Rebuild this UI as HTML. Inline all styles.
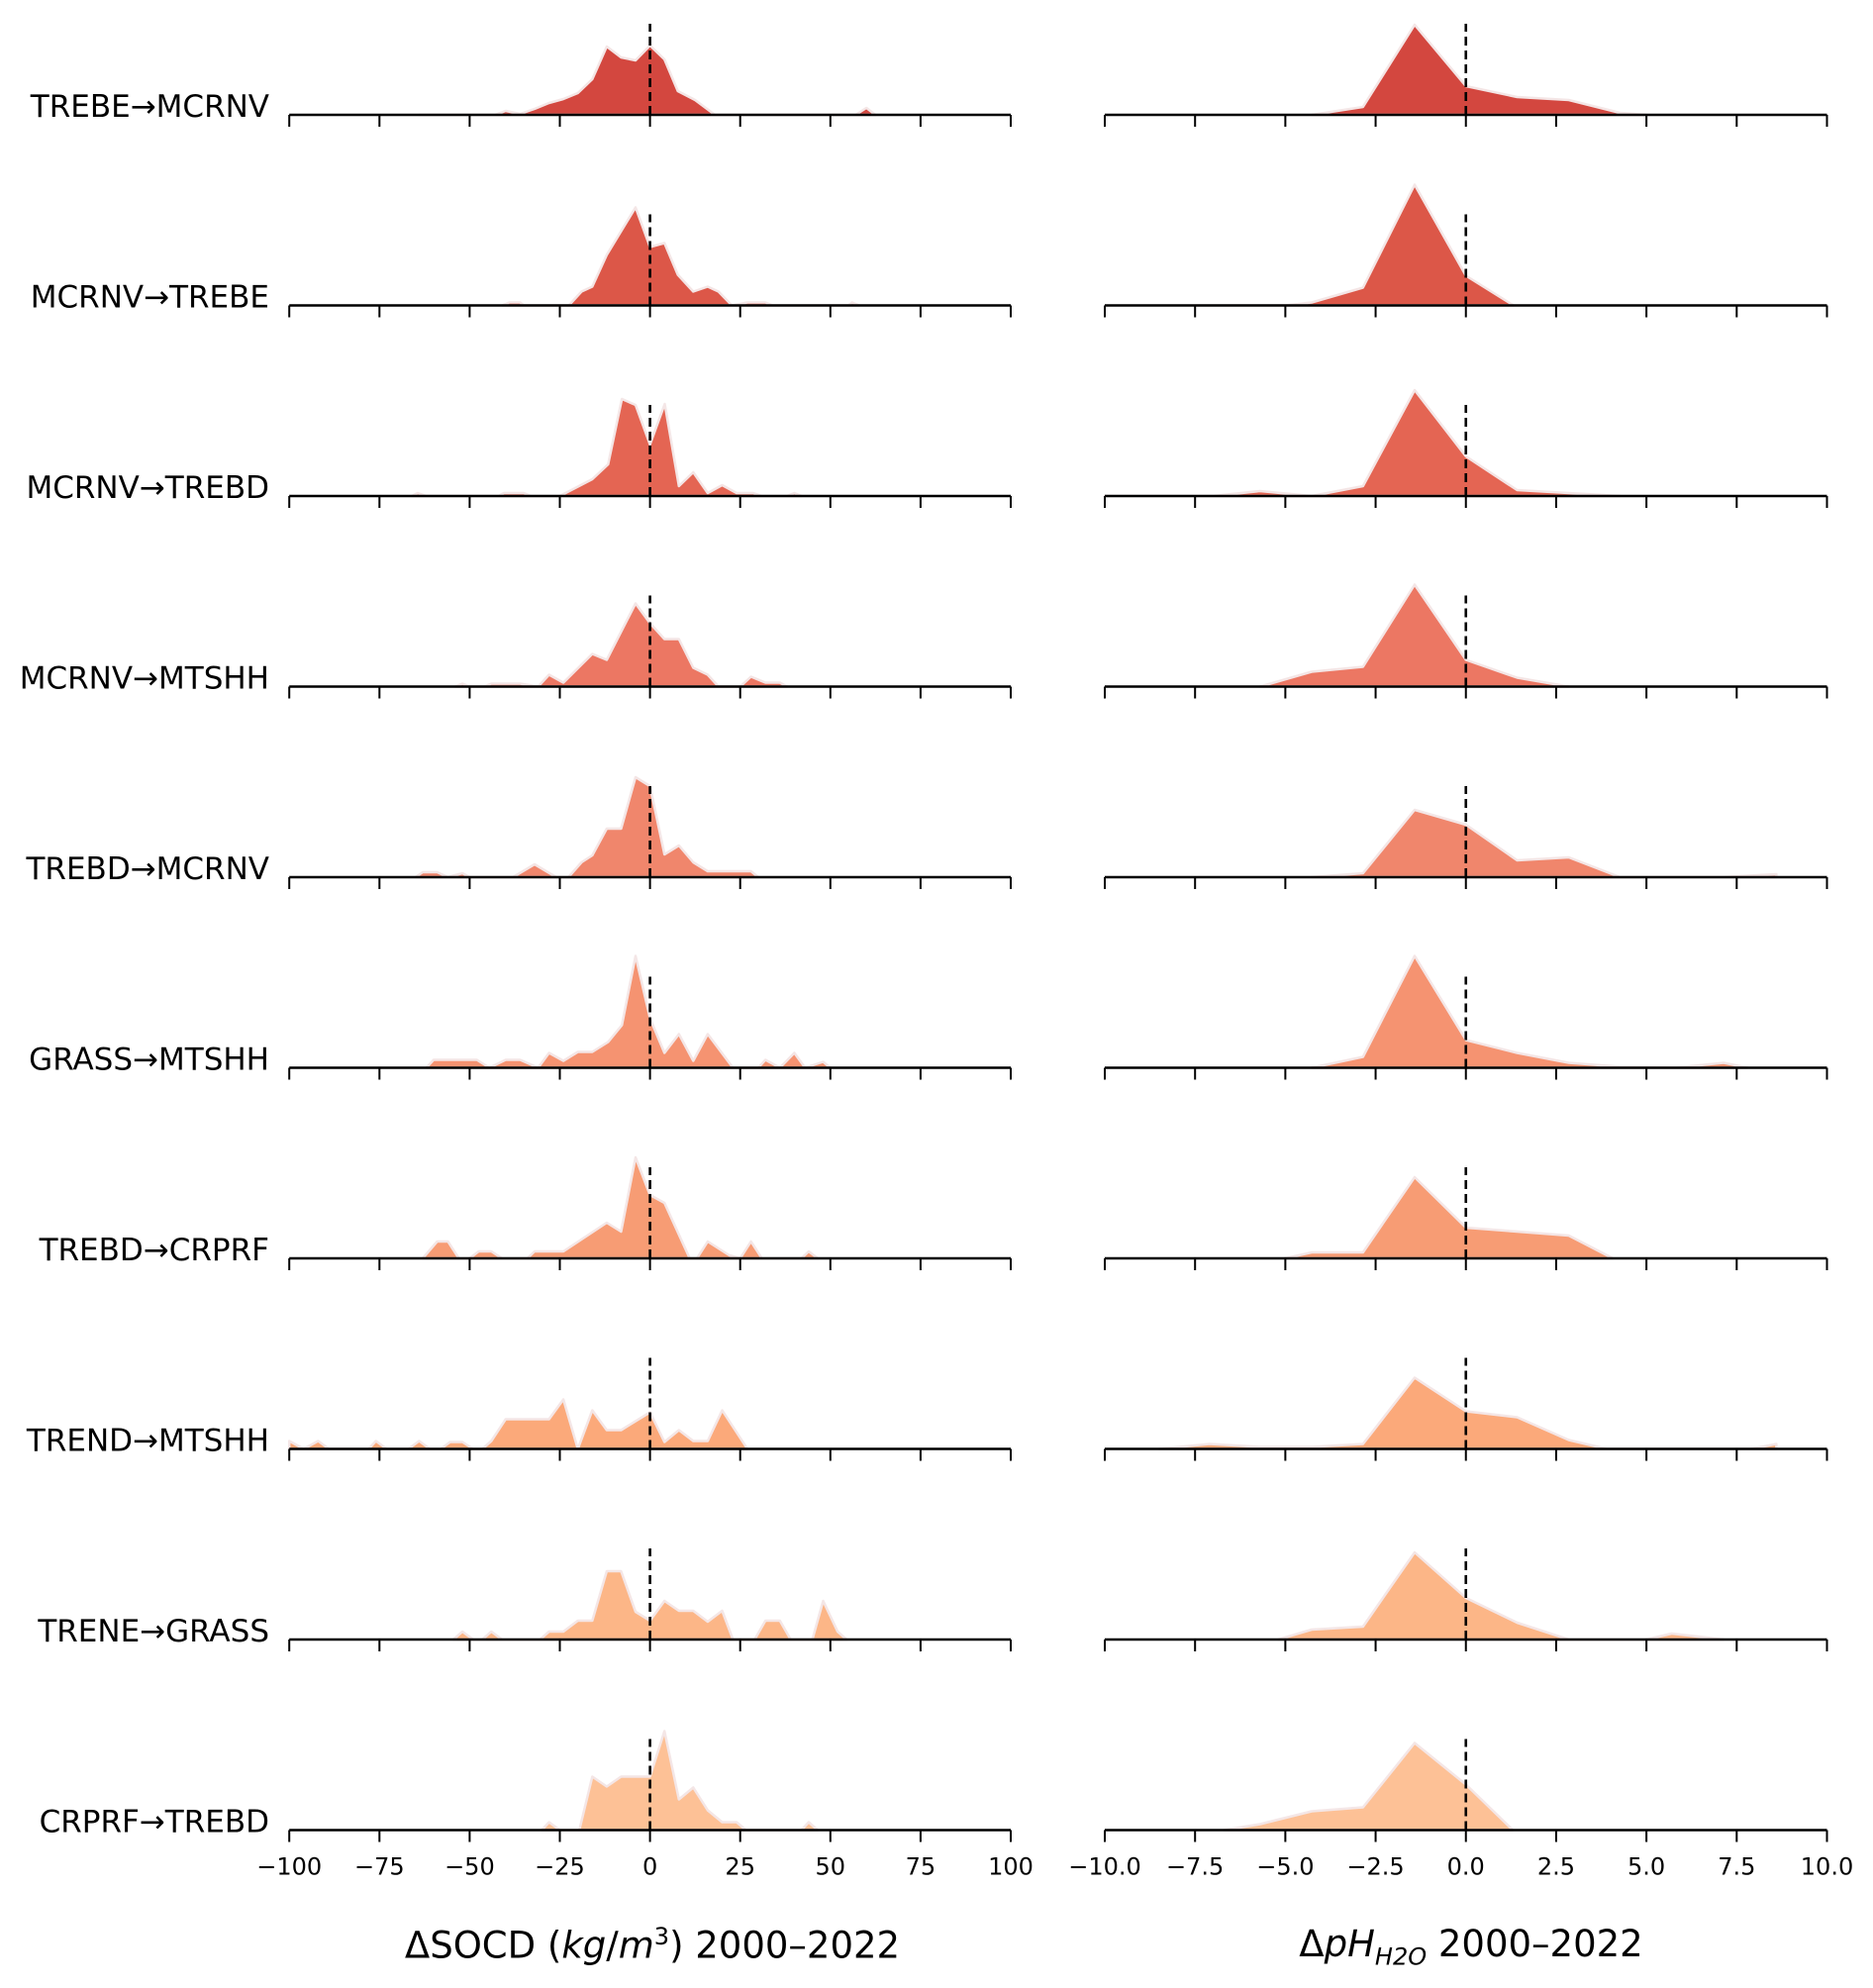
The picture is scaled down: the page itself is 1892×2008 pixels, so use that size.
<!DOCTYPE html>
<html><head><meta charset="utf-8"><style>
html,body{margin:0;padding:0;background:#fff;}
svg{display:block;font-family:"DejaVu Sans","Liberation Sans",sans-serif;}
</style></head><body>
<svg id="chart" width="1892" height="2008" viewBox="0 0 1892 2008" xmlns="http://www.w3.org/2000/svg"></svg>
<script>
const categories = ["TREBE→MCRNV","MCRNV→TREBE","MCRNV→TREBD","MCRNV→MTSHH","TREBD→MCRNV","GRASS→MTSHH","TREBD→CRPRF","TREND→MTSHH","TRENE→GRASS","CRPRF→TREBD"];
const colors = ["#d3473f","#dc5748","#e46553","#ec7763","#f0866c","#f59371","#f79c74","#fba97a","#fcb687","#fdc196"];
const socdTicks = [-100,-75,-50,-25,0,25,50,75,100];
const phTicks = [-10,-7.5,-5,-2.5,0,2.5,5,7.5,10];
const socdTickLabels = ["−100","−75","−50","−25","0","25","50","75","100"];
const phTickLabels = ["−10.0","−7.5","−5.0","−2.5","0.0","2.5","5.0","7.5","10.0"];
// SOCD series: [value, density(px-scaled)]
const socd0 = [[-64,0],[-43,0],[-40,4],[-36,1],[-32,6],[-28,12],[-24,16],[-20,22],[-16,36],[-12,69],[-8,58],[-4,55],[0,70],[4,56],[7.7,24],[12.5,15],[18,0],[57,0],[60,7],[62.5,0]];
const socd1 = [[-41,0],[-39,3],[-36,3],[-35,0],[-22.5,0],[-19,14],[-16,19],[-12,51],[-4,99],[0,59],[4,63],[7.7,31],[12,14],[16,19],[19,14],[22.7,0],[27,3],[32,3],[34,0],[55,0],[56,3],[58,0]];
const socd2 = [[-66,0],[-64.4,3],[-62,0],[-42,0],[-40.5,3],[-35,3],[-33,0],[-25,0],[-16,17],[-11.6,32],[-7.8,98],[-4,92],[0,52],[4.1,93],[8,10],[12,24],[16,3],[20,11],[24,3],[28.6,3],[31,0],[38,0],[40,3],[42,0]];
const socd3 = [[-54,0],[-52,3],[-50,0],[-46,0],[-44,3],[-36,3],[-31,0],[-28,12],[-24,4],[-16,33],[-12,27],[-4,84],[0,64],[4,48],[8,48],[12,19],[16,12],[19,0],[25,0],[28,10],[32,4],[36,4],[38,0]];
const socd4 = [[-65,0],[-63,5],[-59,5],[-56,0],[-52,4],[-50,0],[-38,0],[-32,13],[-26,0],[-22.6,0],[-19,15],[-16,22],[-12,49],[-8,49],[-4,101],[0,92],[4,23],[8,32],[12,15],[16,6],[28,6],[30,0]];
const socd5 = [[-62,0],[-60,8],[-48,8],[-44.5,0],[-40,8],[-36,8],[-31,0],[-28,15],[-24,7],[-20,16],[-16,16],[-11.6,26],[-7.8,43],[-4,113],[0,50],[4,15],[8,34],[12,7],[16,34],[23,0],[30,0],[32,8],[36,0],[40,15],[43,0],[48,6],[50,0]];
const socd6 = [[-63,0],[-59,17],[-56,17],[-53,0],[-50,0],[-47.5,7],[-44,7],[-41,0],[-34,0],[-32,7],[-24,7],[-12,36],[-8,27],[-4,102],[0,64],[4,56],[11,0],[13,0],[16,17],[22,3],[25,0],[28,17],[31,0],[42,0],[44,7],[46.5,0]];
const socd7 = [[-100,8],[-96,0],[-92,8],[-89,0],[-78,0],[-76,8],[-73,0],[-67,0],[-64,8],[-61,0],[-58,0],[-55.4,7],[-52,7],[-49,0],[-46.5,0],[-44,8],[-40,30],[-28,30],[-24,50],[-20,0],[-16,39],[-12,19],[-8,19],[0,37],[4,7],[8,19],[12,8],[16,8],[20,39],[27,0]];
const socd8 = [[-54.5,0],[-52,8],[-49,0],[-46.5,0],[-44,8],[-41,0],[-30.5,0],[-28,8],[-24,8],[-20,19],[-16,19],[-12,69],[-8,69],[-4,28],[0,19],[4,39],[8,29],[12,29],[16,18],[20,29],[23,0],[29,0],[32,19],[36,19],[39,0],[45,0],[48,39],[52,8],[54.5,0]];
const socd9 = [[-30,0],[-28,8],[-25,0],[-19.6,0],[-16,54],[-12,44],[-8,54],[0,54],[4,100],[8,31],[12,43],[16,20],[20,8],[24,8],[26.6,0],[42,0],[44,8],[46.5,0]];
// pH series
const ph0 = [[-4.27,0],[-2.85,8],[-1.42,91],[0,29],[1.42,18],[2.85,15],[4.27,2],[5,0]];
const ph1 = [[-7.5,0],[-5,0],[-4.27,3],[-2.85,18],[-1.42,122],[0,30],[1.32,0]];
const ph2 = [[-10,0],[-7,0],[-5.7,5],[-4.27,0],[-2.85,10],[-1.42,107],[0,40],[1.42,6],[2.85,3],[4.27,0]];
const ph3 = [[-5.7,0],[-4.27,15],[-2.85,20],[-1.42,103],[0,27],[1.42,9],[2.85,0]];
const ph4 = [[-4.27,0],[-2.85,4],[-1.42,68],[0,53],[1.42,17],[2.85,20],[4.27,0],[7.1,0],[8.6,3],[8.6,0]];
const ph5 = [[-4.27,0],[-2.85,11],[-1.42,113],[0,28],[1.42,15],[2.85,5],[4.27,1],[5.8,0],[7.14,5],[7.8,0]];
const ph6 = [[-5,0],[-4.27,6],[-2.85,6],[-1.42,82],[0,31],[1.42,27],[2.85,23],[4.07,0]];
const ph7 = [[-8.5,0],[-7.1,5],[-5.7,2],[-4.27,2],[-2.85,5],[-1.42,72],[0,38],[1.42,32],[2.85,9],[3.9,0],[7.9,0],[8.6,5],[8.6,0]];
const ph8 = [[-5.2,0],[-4.27,10],[-2.85,13],[-1.42,88],[0,42],[1.42,17],[2.85,0],[5,0],[5.7,6],[7.14,0]];
const ph9 = [[-6.7,0],[-5.7,6],[-4.27,19],[-2.85,23],[-1.42,88],[0,46],[1.3,0]];

const socdSeries=[socd0,socd1,socd2,socd3,socd4,socd5,socd6,socd7,socd8,socd9];
const phSeries=[ph0,ph1,ph2,ph3,ph4,ph5,ph6,ph7,ph8,ph9];

const NS="http://www.w3.org/2000/svg";
const svg=document.getElementById('chart');
const L={x0:292.2,x1:1021,min:-100,max:100};
const R={x0:1116,x1:1845.5,min:-10,max:10};
function sx(ax,v){return ax.x0+(v-ax.min)/(ax.max-ax.min)*(ax.x1-ax.x0);}
function baseY(i){return 116+i*192.5;}
function sy(i,d){return baseY(i)-d;}
function mk(tag,attrs){const e=document.createElementNS(NS,tag);for(const k in attrs)e.setAttribute(k,attrs[k]);svg.appendChild(e);return e;}

function drawPanel(ax,series,i,ticks,labels,side){
  const b=baseY(i);
  const pts=series[i];
  let d=`M${sx(ax,pts[0][0])},${b}`;
  pts.forEach(p=>{d+=` L${sx(ax,p[0]).toFixed(1)},${sy(i,p[1]).toFixed(1)}`;});
  d+=` L${sx(ax,pts[pts.length-1][0])},${b} Z`;
  const area=mk('path',{d:d,fill:colors[i],stroke:'#f4e6e6','stroke-width':2.5,'stroke-linejoin':'round'});
  
  
  const ax0=mk('line',{x1:ax.x0,x2:ax.x1,y1:b,y2:b,stroke:'#000','stroke-width':2.5});
  
  
  ticks.forEach((t,k)=>{
    const tk=mk('line',{x1:sx(ax,t),x2:sx(ax,t),y1:b,y2:b+12,stroke:'#000','stroke-width':2});
    
    
    if(i===series.length-1){
      const tl=mk('text',{x:sx(ax,t),y:b+45,'text-anchor':'middle','font-size':24,fill:'#000'});
      tl.textContent=labels[k];
      
      
    }
  });
  const zl=mk('line',{x1:sx(ax,0),x2:sx(ax,0),y1:b,y2:b-92,stroke:'#000','stroke-width':2.6,'stroke-dasharray':'9,5'});
  
  
}
categories.forEach((c,i)=>{
  drawPanel(L,socdSeries,i,socdTicks,socdTickLabels,'socd');
  drawPanel(R,phSeries,i,phTicks,phTickLabels,'ph');
  const t=mk('text',{x:272,y:baseY(i)+2,'text-anchor':'end','font-size':31,fill:'#000'});
  t.textContent=c;
  
  
});
</script>
<div style="position:absolute;left:0;top:0;width:1892px;height:2008px;pointer-events:none;font-family:'DejaVu Sans','Liberation Sans',sans-serif;font-size:37px;color:#000;">
<div style="position:absolute;left:259px;width:800px;top:1942px;text-align:center;">ΔSOCD (<i>kg</i>/<i>m</i><sup style="font-size:24px">3</sup>) 2000–2022</div>
<div style="position:absolute;left:1086px;width:800px;top:1942px;text-align:center;">Δ<i>pH</i><sub style="font-size:24px"><i>H2O</i></sub> 2000–2022</div>
</div>
</body></html>
